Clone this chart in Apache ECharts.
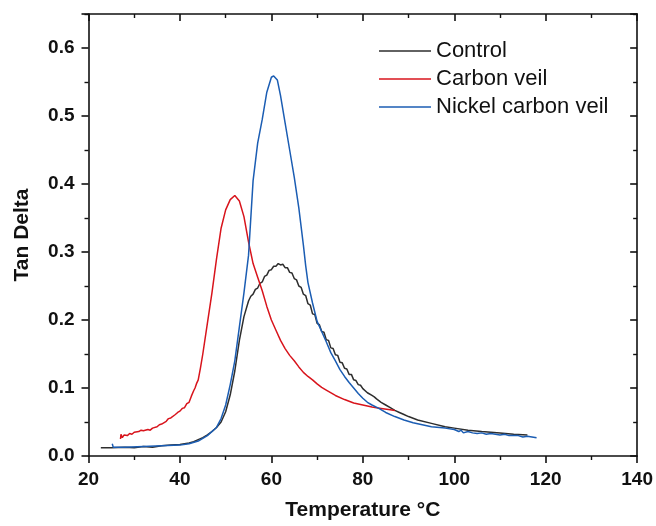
<!DOCTYPE html>
<html><head><meta charset="utf-8">
<script src="https://cdn.jsdelivr.net/npm/echarts@6/dist/echarts.min.js"></script>
<style>html,body{margin:0;padding:0;background:#fff}#c{width:656px;height:526px}</style>
</head><body><div id="c"></div>
<script>
var seriesNames = ['Control', 'Carbon veil', 'Nickel carbon veil'];
var xTicks = [20, 40, 60, 80, 100, 120, 140];
var yTicks = [0.0, 0.1, 0.2, 0.3, 0.4, 0.5, 0.6];

var controlT = [22.7, 25, 28, 30, 32, 34, 36, 38, 40, 42, 43, 44, 45, 46, 47, 48, 49, 50, 51, 52, 53, 54,
  55, 55.5, 56, 56.5, 57, 57.5, 58, 58.5, 59, 59.5, 60, 60.5, 61, 61.5, 62, 62.5, 63, 63.5, 64, 64.5, 65, 65.5,
  66, 66.5, 67, 67.5, 68, 68.5, 69, 69.5, 70, 70.5, 71, 71.5, 72, 72.5, 73, 73.5, 74, 74.5, 75, 75.5, 76, 76.5,
  77, 77.5, 78, 78.5, 79, 79.5, 80, 81, 82, 82.5, 83, 84, 85, 86, 87, 88, 89, 90, 92, 95, 98, 100, 103, 106, 110, 113, 116];
var controlV = [0.012, 0.012, 0.013, 0.012, 0.014, 0.013, 0.015, 0.016, 0.017, 0.019, 0.021, 0.024, 0.027, 0.031, 0.036, 0.042, 0.05, 0.065, 0.09, 0.125, 0.17, 0.205,
  0.228, 0.235, 0.238, 0.245, 0.247, 0.254, 0.256, 0.264, 0.266, 0.273, 0.274, 0.279, 0.279, 0.283, 0.281, 0.282, 0.277, 0.277, 0.27, 0.269, 0.261, 0.259,
  0.25, 0.248, 0.238, 0.236, 0.224, 0.222, 0.209, 0.208, 0.195, 0.193, 0.183, 0.182, 0.171, 0.17, 0.159, 0.158, 0.149, 0.148, 0.138, 0.137, 0.129, 0.128,
  0.12, 0.12, 0.112, 0.111, 0.105, 0.104, 0.099, 0.093, 0.089, 0.087, 0.084, 0.079, 0.075, 0.071, 0.067, 0.064, 0.061, 0.058, 0.053, 0.048, 0.043, 0.041, 0.038, 0.036, 0.034, 0.032, 0.031];

var carbonT = [27, 27.1, 27.4, 27.8, 28.5, 29, 29.5, 30, 31, 31.5, 32, 33, 33.5, 34, 35, 35.5, 36, 37, 37.5, 38, 39, 39.5, 40, 40.5, 41, 41.5, 42, 42.5, 43, 43.3, 43.6, 44, 44.5, 45,
  46, 47, 48, 49, 50, 51, 52, 53, 54, 55, 56, 57, 58, 59, 60, 61, 62, 63, 64, 65, 66, 67, 68, 69, 70, 71, 72, 74, 76, 78, 80, 82, 84, 86, 87];
var carbonV = [0.025, 0.032, 0.027, 0.031, 0.03, 0.033, 0.032, 0.035, 0.036, 0.038, 0.037, 0.039, 0.038, 0.041, 0.043, 0.046, 0.047, 0.051, 0.055, 0.056, 0.061, 0.064, 0.066, 0.07, 0.071, 0.077, 0.079, 0.088, 0.096, 0.1, 0.106, 0.112, 0.13, 0.15,
  0.195, 0.24, 0.29, 0.335, 0.362, 0.377, 0.383, 0.375, 0.352, 0.315, 0.283, 0.263, 0.243, 0.22, 0.2, 0.185, 0.17, 0.158, 0.148, 0.14, 0.131, 0.123, 0.117, 0.112, 0.106, 0.101, 0.097, 0.089, 0.083, 0.078, 0.075, 0.072, 0.07, 0.068, 0.067];

var nickelT = [25.2, 25.4, 28, 32, 36, 40, 42, 44, 46, 48, 49, 50, 51, 52, 53, 54, 55, 56, 57, 58, 59, 60, 60.5, 61.3, 62, 63, 64, 65, 66, 67, 67.5, 68, 69, 70, 71, 72, 73, 74, 75, 76, 77, 78, 79, 80, 81, 82, 83.5, 85, 87, 89, 91, 93, 95, 98,
  100, 101, 101.5, 102, 103, 104, 105, 106, 107, 108, 110, 111, 112, 114, 115, 116, 118];
var nickelV = [0.018, 0.013, 0.013, 0.014, 0.015, 0.016, 0.018, 0.022, 0.03, 0.042, 0.055, 0.075, 0.105, 0.14, 0.19, 0.24, 0.295, 0.405, 0.46, 0.495, 0.535, 0.557, 0.559, 0.553, 0.53, 0.49, 0.45, 0.41, 0.365, 0.31, 0.28, 0.255, 0.225, 0.198, 0.183, 0.168, 0.152, 0.14, 0.127, 0.117, 0.108, 0.1, 0.092, 0.085, 0.079, 0.075, 0.07, 0.064, 0.058, 0.053, 0.049, 0.046, 0.043, 0.041,
  0.039, 0.036, 0.038, 0.034, 0.036, 0.034, 0.033, 0.034, 0.032, 0.033, 0.031, 0.032, 0.03, 0.03, 0.028, 0.029, 0.027];

function zip(t, v) { return t.map(function (x, i) { return [x, v[i]]; }); }

var colors = ['#2e2e2e', '#d8141c', '#1b5db3'];
var FONT = 'Liberation Sans, Arial, sans-serif';

var chart = echarts.init(document.getElementById('c'));
var axisLine = { show: true, onZero: false, lineStyle: { color: '#111', width: 1.6 } };
chart.setOption({
  animation: false,
  backgroundColor: '#fff',
  grid: { left: 88.5, right: 16.5, top: 14, bottom: 70, containLabel: false },
  legend: {
    data: seriesNames, orient: 'vertical', left: 374, top: 35,
    icon: 'rect', itemWidth: 52, itemHeight: 1.6, itemGap: 6,
    textStyle: { fontFamily: FONT, fontSize: 22, color: '#111', lineHeight: 22 }
  },
  xAxis: [{
    type: 'value', min: 20, max: 140, interval: 20, position: 'bottom',
    name: 'Temperature °C', nameLocation: 'middle', nameGap: 44,
    nameTextStyle: { fontFamily: FONT, fontSize: 21, fontWeight: 'bold', color: '#111' },
    axisLine: axisLine,
    axisTick: { show: true, inside: false, length: 7, lineStyle: { color: '#111', width: 1.6 } },
    minorTick: { show: true, splitNumber: 2, length: 4, lineStyle: { color: '#111', width: 1.4 } },
    axisLabel: { margin: 14, fontFamily: FONT, fontSize: 19, fontWeight: 'bold', color: '#111',
      formatter: function (v) { return xTicks.indexOf(v) >= 0 ? String(v) : ''; } },
    splitLine: { show: false }
  }, {
    type: 'value', min: 20, max: 140, interval: 20, position: 'top',
    axisLine: axisLine,
    axisTick: { show: true, inside: true, length: 7, lineStyle: { color: '#111', width: 1.6 } },
    minorTick: { show: true, splitNumber: 2, length: 4, lineStyle: { color: '#111', width: 1.4 } },
    axisLabel: { show: false }, splitLine: { show: false }
  }],
  yAxis: [{
    type: 'value', min: 0, max: 0.65, interval: 0.1, position: 'left',
    name: 'Tan Delta', nameLocation: 'middle', nameGap: 56, nameRotate: 90,
    nameTextStyle: { fontFamily: FONT, fontSize: 21, fontWeight: 'bold', color: '#111' },
    axisLine: axisLine,
    axisTick: { show: true, inside: false, length: 7, lineStyle: { color: '#111', width: 1.6 } },
    minorTick: { show: true, splitNumber: 2, length: 4, lineStyle: { color: '#111', width: 1.4 } },
    axisLabel: { margin: 14, fontFamily: FONT, fontSize: 19, fontWeight: 'bold', color: '#111', showMaxLabel: false,
      formatter: function (v) { return yTicks.indexOf(Math.round(v * 10) / 10) >= 0 ? v.toFixed(1) : ''; } },
    splitLine: { show: false }
  }, {
    type: 'value', min: 0, max: 0.65, interval: 0.1, position: 'right',
    axisLine: axisLine,
    axisTick: { show: true, inside: true, length: 7, lineStyle: { color: '#111', width: 1.6 } },
    minorTick: { show: true, splitNumber: 2, length: 4, lineStyle: { color: '#111', width: 1.4 } },
    axisLabel: { show: false }, splitLine: { show: false }
  }],
  series: [
    { name: seriesNames[0], type: 'line', data: zip(controlT, controlV), symbol: 'none', color: colors[0], lineStyle: { width: 1.5, color: colors[0] } },
    { name: seriesNames[1], type: 'line', data: zip(carbonT, carbonV), symbol: 'none', color: colors[1], lineStyle: { width: 1.5, color: colors[1] } },
    { name: seriesNames[2], type: 'line', data: zip(nickelT, nickelV), symbol: 'none', color: colors[2], lineStyle: { width: 1.5, color: colors[2] } }
  ]
});
</script></body></html>
